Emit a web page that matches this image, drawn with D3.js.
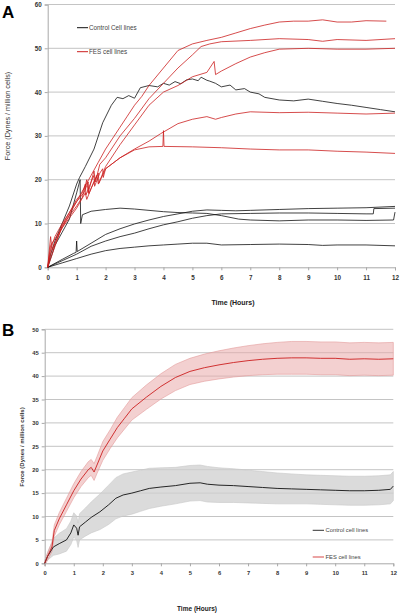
<!DOCTYPE html>
<html><head><meta charset="utf-8">
<script src="https://cdn.jsdelivr.net/npm/d3@7"></script>
<style>
html,body{margin:0;padding:0;background:#fff;}
svg{display:block;}
text{font-family:'Liberation Sans Narrow','Liberation Sans',Arial,sans-serif;}
</style></head>
<body>
<svg id="chart" width="400" height="613"></svg>
<script>
// ---------- Panel A data (hours, force) ----------
const hourTicks = [0,1,2,3,4,5,6,7,8,9,10,11,12];
const forceTicksA = [0,10,20,30,40,50,60];
const forceTicksB = [0,5,10,15,20,25,30,35,40,45,50];

const ctrl1T = [0,0.1,0.25,0.5,0.75,1,1.1,1.3,1.6,1.9,2.2,2.4,2.6,2.8,3,3.2,3.5,3.8,4,4.2,4.4,4.6,4.8,5,5.2,5.3,5.5,5.6,5.8,6,6.3,6.5,6.8,7,7.3,7.5,8,8.5,9,9.5,10,10.5,11,11.5,12];
const ctrl1V = [0,3,6,10,14,19,20.5,23,27,33,37,38.8,38.5,39.2,38.6,41,41.5,41.2,42,41.6,42.4,41.9,42.8,43,42.6,43.4,42.7,42.5,42,41.2,41.6,40.5,40.8,40,39.6,38.8,38.2,38,38.4,37.9,37.4,37,36.5,36,35.5];
const ctrl2T = [0,0.25,0.5,0.75,1,1.12,1.14,1.2,1.5,2,2.5,3,3.5,4,4.5,5,5.5,6,6.6,7,8,9,10,11,11.95,12];
const ctrl2V = [0,5,8,11,17,20,10,12,12.8,13.2,13.5,13.3,13,12.7,12.5,12.4,12.3,11.8,11,10.8,10.6,10.8,10.8,10.7,10.8,12.6];
const ctrl3T = [0,0.5,0.9,0.98,1,1.02,1.5,2,2.5,3,3.5,4,4.5,5,5.5,6,6.5,7,8,9,10,11,12];
const ctrl3V = [0,1.8,3.2,3.4,6,3.6,5.5,7.5,8.8,9.9,10.8,11.6,12.2,12.8,13.1,13,12.9,13,13.2,13.4,13.5,13.6,13.9];
const ctrl4T = [0,0.5,1,1.5,2,2.5,3,3.5,4,4.5,5,5.5,6,7,8,9,10,11,11.25,11.27,12];
const ctrl4V = [0,1.5,3,4.8,6,7,7.8,8.8,9.7,10.4,11.2,11.8,12.2,12.3,12.4,12.4,12.3,12.2,12.2,13.4,13.5];
const ctrl5T = [0,0.5,1,1.5,2,2.5,3,3.5,4,4.5,5,5.5,6,7,8,9,9.5,10,11,12];
const ctrl5V = [0,1,2,3,3.8,4.3,4.6,4.9,5.1,5.3,5.5,5.5,5.1,5.2,5.3,5.2,5,5.1,5.1,4.9];

const fes1T = [0,0.1,0.25,0.5,0.75,1,1.25,1.5,1.75,2,2.25,2.5,2.75,3,3.25,3.5,4,4.5,5,5.5,6,6.5,7,7.5,8,8.5,9,9.5,10,10.5,11,11.7];
const fes1V = [0,4,7,10,12.5,15,18,21,24,27,29.5,32,34.5,37,39,41.5,45.5,49.5,51,51.8,52.5,53.5,54.5,55.3,56,56.2,56.2,56.5,56,56,56.3,56.2];
const fes2T = [0,0.1,0.5,1,1.2,1.35,1.4,1.6,1.65,1.8,2,2.5,3,3.5,4,4.5,5,5.3,5.6,6,7,8,9,9.5,10,11,12];
const fes2V = [0,3,9.5,14,16,20,17,22,19.5,23.5,25,30,34,38.5,42,45.5,48.5,50.4,51,51.5,51.8,52.2,52,51.6,52,51.8,52.2];
const fes3T = [0,0.1,0.15,0.5,1,1.3,1.35,1.5,1.7,1.75,2,2.5,3,3.5,4,4.5,5,5.5,5.75,5.8,6,6.5,7,7.5,8,9,10,11,12];
const fes3V = [0,7,4,9,13.5,17,15.5,18,21,19,23,28,32.5,37,40,41.5,43.5,44.5,47,44,44.8,46.5,48,49,49.8,50,49.8,49.8,50];
const fes4T = [0,0.1,0.5,1,1.25,1.4,1.42,1.6,1.75,1.77,2,2.5,3,3.5,3.9,4.5,5,5.5,5.8,6,6.5,7,8,9,10,11,12];
const fes4V = [0,5,9,15,17,19.5,16.8,19.5,21.5,19.2,22.5,25,27,28.8,30.5,32.8,33.8,34.4,33.8,34.2,35,35.5,35.3,35.4,35.2,35,35.2];
const fes5T = [0,0.5,1,1.2,1.3,1.32,1.5,1.6,1.62,1.8,1.9,1.92,2,2.5,3,3.5,3.98,4,4.02,5,6,7,8,9,10,11,12];
const fes5V = [0,9.5,15.5,17,19,16.5,19.5,21,18.5,21.5,22.5,20.5,22.5,25,26.8,27.5,27.6,31.2,27.6,27.5,27.3,27,26.8,26.8,26.5,26.3,26];

// ---------- Panel B data (mean ± spread) ----------
const fesMeanT = [0,0.1,0.25,0.33,0.5,0.75,1,1.25,1.5,1.6,1.7,1.8,2,2.25,2.5,2.75,3,3.5,4,4.5,5,5.5,6,6.5,7,7.5,8,8.5,9,9.5,10,10.5,11,11.5,12];
const fesMeanV = [0,1.5,3.5,7,9.5,12.5,15.5,18,20,20.5,19.5,21,24,26.5,29,31,33,35.5,37.8,39.7,41,41.8,42.4,42.9,43.3,43.6,43.8,43.9,43.9,43.8,43.8,43.6,43.7,43.6,43.7];
const fesSpread = [0.5,0.8,1,1.2,1.3,1.4,1.5,1.6,1.7,1.7,1.8,1.8,2,2,2.2,2.3,2.4,2.6,2.7,2.8,2.8,2.9,3,3.1,3.2,3.3,3.4,3.5,3.5,3.5,3.5,3.5,3.5,3.5,3.5];
const ctrlMeanT = [0,0.1,0.3,0.5,0.75,0.9,1,1.1,1.15,1.2,1.4,1.6,1.9,2.2,2.45,2.7,3,3.3,3.6,4,4.5,5,5.35,5.6,6,6.5,7,7.5,8,8.5,9,9.5,10,10.5,11,11.5,11.9,12];
const ctrlMeanV = [0,1.5,3.5,4.2,5,6.5,8.2,7.5,6,7.8,8.8,9.8,11,12.5,13.9,14.6,15,15.5,16,16.3,16.6,17.1,17.2,16.9,16.7,16.6,16.4,16.2,16,15.9,15.8,15.7,15.6,15.5,15.5,15.6,15.8,16.5];
const ctrlSpread = [0,0.8,1.8,2.2,2.4,2.5,2.6,2.6,2.6,2.8,3,3.3,3.8,4.2,4.4,4.5,4.5,4.4,4.3,4.1,3.9,3.8,3.8,3.8,3.7,3.6,3.5,3.4,3.3,3.2,3.1,3.1,3.1,3.1,3.1,3.1,3.1,3.1];

const legendA = ["Control Cell lines","FES cell lines"];
const legendB = ["Control cell lines","FES cell lines"];

const svg = d3.select("#chart");
const RED = "#cc1f1f", GRID = "#c4c4c4";
const zip = (T,V) => T.map((t,i)=>[t,V[i]]);

// ================= Panel A =================
const xA = d3.scaleLinear().domain([0,12]).range([47.7,395]);
const yA = d3.scaleLinear().domain([0,60]).range([267.3,4.5]);
const gA = svg.append("g");
gA.selectAll("line.grid").data(forceTicksA.filter(d=>d>0)).join("line")
  .attr("x1",xA(0)).attr("x2",xA(12)).attr("y1",d=>yA(d)).attr("y2",d=>yA(d))
  .attr("stroke",GRID).attr("stroke-width",1);
const axAy = gA.append("g").attr("transform",`translate(${xA(0)},0)`)
  .call(d3.axisLeft(yA).tickValues(forceTicksA).tickSize(3).tickPadding(3));
const axAx = gA.append("g").attr("transform",`translate(0,${yA(0)})`)
  .call(d3.axisBottom(xA).tickValues(hourTicks).tickSize(3).tickPadding(5));
[axAy,axAx].forEach(a=>{
  a.selectAll("path,line").attr("stroke","#a8a8a8");
  a.selectAll("text").attr("font-size",6.3).attr("font-weight","bold").attr("fill","#333");
});
const lineA = d3.line().x(d=>xA(d[0])).y(d=>yA(d[1]));
const ctrlA = [[ctrl1T,ctrl1V],[ctrl2T,ctrl2V],[ctrl3T,ctrl3V],[ctrl4T,ctrl4V],[ctrl5T,ctrl5V]];
const fesA = [[fes1T,fes1V],[fes2T,fes2V],[fes3T,fes3V],[fes4T,fes4V],[fes5T,fes5V]];
gA.selectAll("path.ctrl").data(ctrlA).join("path").attr("class","ctrl")
  .attr("d",d=>lineA(zip(d[0],d[1]))).attr("fill","none").attr("stroke","#111").attr("stroke-width",0.8);
gA.selectAll("path.fes").data(fesA).join("path").attr("class","fes")
  .attr("d",d=>lineA(zip(d[0],d[1]))).attr("fill","none").attr("stroke",RED).attr("stroke-width",0.8);
// legend A
[[27.7,"#111"],[51.7,RED]].forEach((p,i)=>{
  gA.append("line").attr("x1",77).attr("x2",88).attr("y1",p[0]).attr("y2",p[0]).attr("stroke",p[1]).attr("stroke-width",1);
  gA.append("text").attr("x",89).attr("y",p[0]+2).attr("font-size",6.3).attr("fill","#444").text(legendA[i]);
});
gA.append("text").attr("x",233).attr("y",305).attr("text-anchor","middle").attr("font-size",7).attr("font-weight","bold").attr("fill","#222").text("Time (Hours)");
gA.append("text").attr("transform","translate(10,116) rotate(-90)").attr("text-anchor","middle").attr("font-size",7.2).attr("fill","#333").text("Force (Dynes / million cells)");
gA.append("text").attr("x",2).attr("y",18).attr("font-size",17).attr("font-weight","bold").attr("font-family","Liberation Sans, Arial").text("A");

// ================= Panel B =================
const xB = d3.scaleLinear().domain([0,12]).range([44.7,393.3]);
const yB = d3.scaleLinear().domain([0,50]).range([563.3,329.3]);
const gB = svg.append("g");
gB.selectAll("line.grid").data(forceTicksB.filter(d=>d>0)).join("line")
  .attr("x1",xB(0)).attr("x2",xB(12)).attr("y1",d=>yB(d)).attr("y2",d=>yB(d))
  .attr("stroke",GRID).attr("stroke-width",1);
const areaB = d3.area().x(d=>xB(d[0])).y0(d=>yB(d[1]-d[2])).y1(d=>yB(d[1]+d[2]));
const lineB = d3.line().x(d=>xB(d[0])).y(d=>yB(d[1]));
const ctrlB = ctrlMeanT.map((t,i)=>[t,ctrlMeanV[i],ctrlSpread[i]]);
const fesB = fesMeanT.map((t,i)=>[t,fesMeanV[i],fesSpread[i]]);
gB.append("path").attr("d",areaB(ctrlB)).attr("fill","#cfcfcf").attr("fill-opacity",0.75)
  .attr("stroke","#c8c8c8").attr("stroke-width",0.6);
gB.append("path").attr("d",areaB(fesB)).attr("fill","#e9a9a9").attr("fill-opacity",0.55)
  .attr("stroke","#e29a9a").attr("stroke-width",0.6);
const axBy = gB.append("g").attr("transform",`translate(${xB(0)},0)`)
  .call(d3.axisLeft(yB).tickValues(forceTicksB).tickSize(3).tickPadding(3));
const axBx = gB.append("g").attr("transform",`translate(0,${yB(0)})`)
  .call(d3.axisBottom(xB).tickValues(hourTicks).tickSize(3).tickPadding(5));
[axBy,axBx].forEach(a=>{
  a.selectAll("path,line").attr("stroke","#a8a8a8");
  a.selectAll("text").attr("font-size",5.8).attr("font-weight","bold").attr("fill","#333");
});
gB.append("path").attr("d",lineB(ctrlB)).attr("fill","none").attr("stroke","#111").attr("stroke-width",0.9);
gB.append("path").attr("d",lineB(fesB)).attr("fill","none").attr("stroke",RED).attr("stroke-width",0.9);
// legend B
gB.append("line").attr("x1",312.7).attr("x2",324).attr("y1",530.3).attr("y2",530.3).attr("stroke","#333").attr("stroke-width",1);
gB.append("text").attr("x",325.5).attr("y",532.3).attr("font-size",5.8).attr("fill","#444").text(legendB[0]);
gB.append("line").attr("x1",312.7).attr("x2",324).attr("y1",557).attr("y2",557).attr("stroke","#eba3a3").attr("stroke-width",2);
gB.append("text").attr("x",325.5).attr("y",559).attr("font-size",5.8).attr("fill","#444").text(legendB[1]);
gB.append("text").attr("x",197).attr("y",611).attr("text-anchor","middle").attr("font-size",6.5).attr("font-weight","bold").attr("fill","#222").text("Time (Hours)");
gB.append("text").attr("transform","translate(24,447) rotate(-90)").attr("text-anchor","middle").attr("font-size",6).attr("font-weight","bold").attr("fill","#333").text("Force (Dynes / million cells)");
gB.append("text").attr("x",2).attr("y",336).attr("font-size",17).attr("font-weight","bold").attr("font-family","Liberation Sans, Arial").text("B");
</script>
</body></html>
